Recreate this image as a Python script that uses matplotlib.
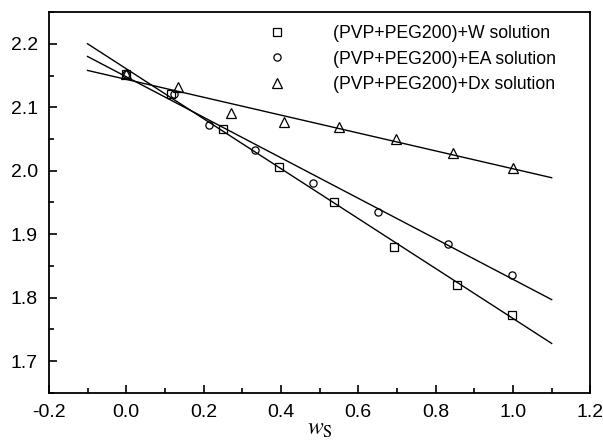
# Density vs solvent mass fraction, (PVP+PEG200)+solvent solutions

import numpy as np
import matplotlib
matplotlib.use("Agg")
import matplotlib.pyplot as plt
from matplotlib.ticker import MultipleLocator

# ----------------------------------
# Data
# ----------------------------------

w_x = [0.0, 0.115, 0.249, 0.394, 0.536, 0.692, 0.854, 0.997]
w_y = [2.152, 2.121, 2.065, 2.006, 1.951, 1.880, 1.820, 1.772]

ea_x = [0.0, 0.123, 0.215, 0.333, 0.482, 0.651, 0.833, 0.997]
ea_y = [2.153, 2.121, 2.072, 2.033, 1.981, 1.935, 1.885, 1.836]

dx_x = [0.0, 0.133, 0.270, 0.407, 0.550, 0.698, 0.845, 1.000]
dx_y = [2.153, 2.132, 2.091, 2.076, 2.069, 2.050, 2.028, 2.005]

# fitted lines, end points
fit_x = [-0.1, 1.1]
w_fit = [2.200, 1.728]
ea_fit = [2.180, 1.797]
dx_fit = [2.158, 1.989]

labels = [
    "(PVP+PEG200)+W solution",
    "(PVP+PEG200)+EA solution",
    "(PVP+PEG200)+Dx solution",
]

# ----------------------------------
# Plot
# ----------------------------------

plt.rcParams["font.family"] = ["Liberation Sans", "DejaVu Sans"]
plt.rcParams["mathtext.fontset"] = "stix"
plt.rcParams["axes.unicode_minus"] = False

fig = plt.figure(figsize=(6.03, 4.45), dpi=100)
ax = fig.add_axes([0.081, 0.117, 0.898, 0.856])

mk = dict(linestyle="none", markerfacecolor="none", markeredgecolor="black",
          markeredgewidth=0.9, markersize=5.2)
ax.plot(w_x, w_y, marker="s", label=labels[0], **mk)
ax.plot(ea_x, ea_y, marker="o", label=labels[1], **mk)
ax.plot(dx_x, dx_y, marker="^", label=labels[2], **dict(mk, markersize=6.5))

for fy in (w_fit, ea_fit, dx_fit):
    ax.plot(fit_x, fy, color="black", linewidth=1.0)

ax.set_xlim(-0.2, 1.2)
ax.set_ylim(1.65, 2.25)
ax.xaxis.set_major_locator(MultipleLocator(0.2))
ax.xaxis.set_minor_locator(MultipleLocator(0.1))
ax.yaxis.set_major_locator(MultipleLocator(0.1))
ax.yaxis.set_minor_locator(MultipleLocator(0.05))
ax.tick_params(which="both", direction="in", top=False, right=False,
               labelsize=14, width=1.2, pad=8)
ax.tick_params(which="major", length=6)
ax.tick_params(which="minor", length=3.5)
for s in ax.spines.values():
    s.set_linewidth(1.3)

ax.set_xlabel(r"$w_{\mathrm{S}}$", fontsize=17, labelpad=-2)

ax.legend(loc="upper right", bbox_to_anchor=(0.95, 0.985), frameon=False,
          fontsize=12.7, handletextpad=2.7, labelspacing=0.5,
          handlelength=1.0, borderaxespad=0.0)

plt.savefig("out.png", dpi=100)
